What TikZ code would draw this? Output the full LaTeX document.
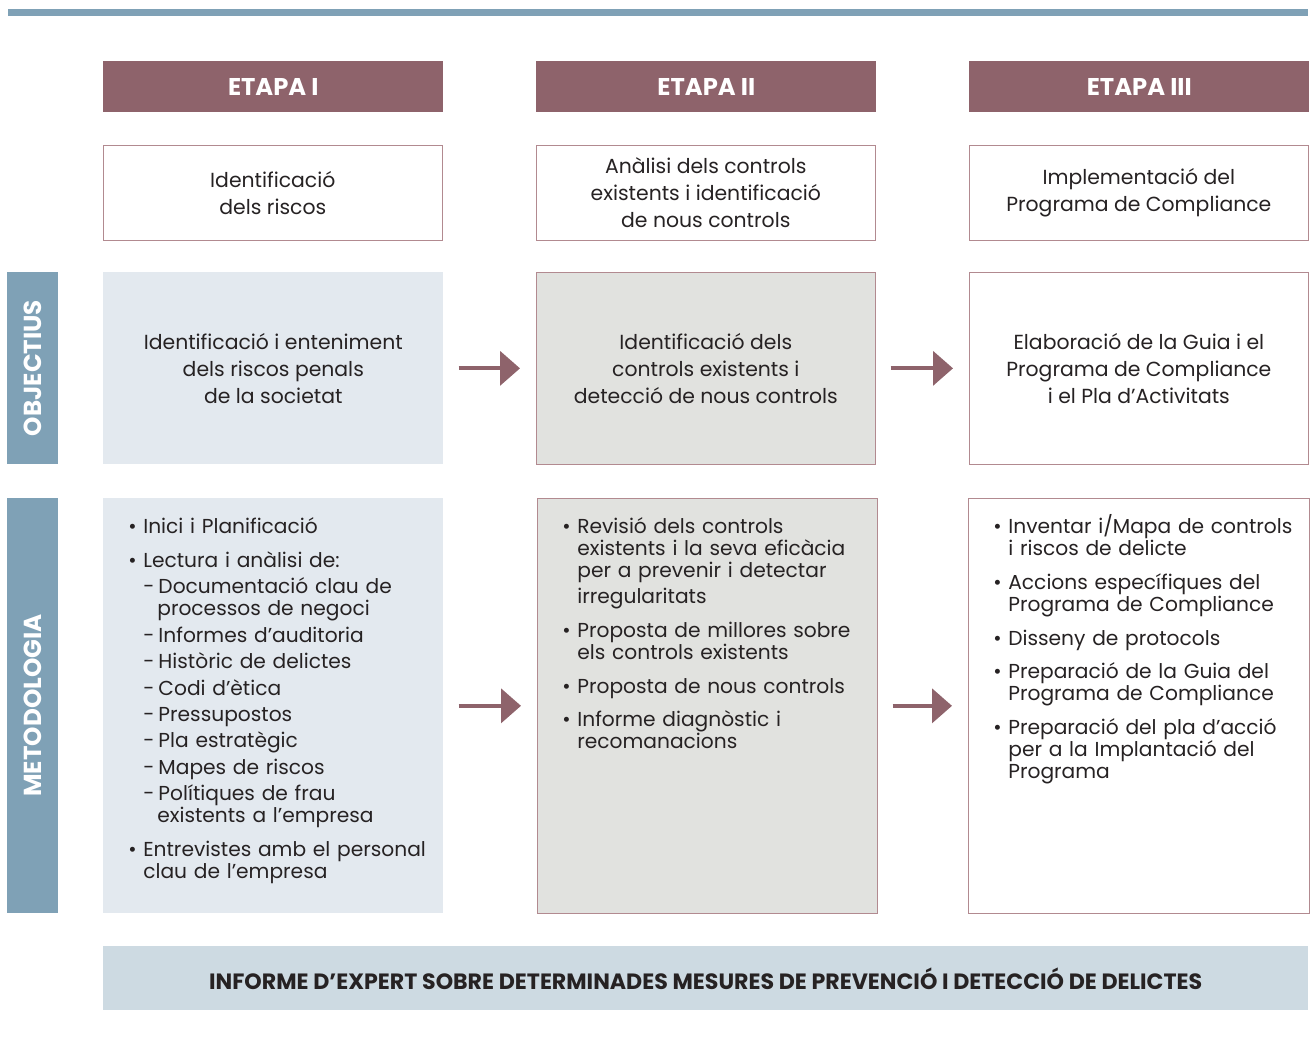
\documentclass[tikz,border=0pt]{standalone}
\usepackage{fontspec}
\setmainfont{Poppins}
\usepackage{enumitem}
\usetikzlibrary{arrows.meta}
\definecolor{etapa}{RGB}{142,99,107}
\definecolor{edge}{RGB}{178,138,144}
\definecolor{sideblue}{RGB}{127,161,182}
\definecolor{paleblue}{RGB}{227,233,239}
\definecolor{palegray}{RGB}{225,226,223}
\definecolor{band}{RGB}{205,218,226}
\definecolor{ink}{RGB}{38,34,35}
\newcommand\bodyfont{\fontsize{11.6}{15.3}\selectfont}
\newcommand\listfont{\fontsize{11.5}{12.4}\selectfont}
\tikzset{head/.style = {fill=etapa, anchor=north west, inner sep=0pt, minimum width=6.8cm, minimum height=1.02cm,
                        text=white, font=\bfseries\fontsize{13.8}{16}\selectfont},
         goal/.style = {draw=edge, fill=white, anchor=north west, inner sep=0pt, minimum width=6.78cm, minimum height=1.9cm,
                        align=center, text=ink, font=\bodyfont},
         aim/.style = {anchor=north west, inner sep=0pt, minimum width=6.8cm, minimum height=3.84cm,
                       align=center, text=ink, font=\bodyfont},
         task/.style = {anchor=north west, inner sep=0pt, minimum width=6.8cm, minimum height=8.3cm},
         side/.style = {fill=sideblue, rotate=90, inner sep=0pt, minimum height=1.02cm,
                        text=white, font=\bfseries\fontsize{14}{16}\selectfont},
         steps/.style = {anchor=north west, inner sep=0pt, text width=6.2cm, text=ink, font=\listfont},
         flow/.style = {draw=etapa, line width=0.08cm, -{Triangle[length=0.4cm,width=0.68cm]},
                        shorten <=0.3cm, shorten >=0.32cm}}
\setlist[itemize,1]{label=\textbullet, leftmargin=0.3cm, labelwidth=0.2cm, labelsep=0.1cm, align=left,
                    topsep=0pt, partopsep=0pt, parsep=0pt, itemsep=6.9pt}
\setlist[itemize,2]{label=-, leftmargin=0.28cm, labelwidth=0.2cm, labelsep=0.08cm, align=left,
                    topsep=2.6pt, partopsep=0pt, parsep=0pt, itemsep=2.65pt}

\begin{document}
\begin{tikzpicture}[x=0.02cm, y=-0.02cm]
        \useasboundingbox (0,0) rectangle (1314,1036);
        \fill[sideblue] (8,9) rectangle (1308,16);

        % etapes
        \node[head] (h1) at (103,61) {ETAPA I};
        \node[head] (h2) at (536,61) {ETAPA II};
        \node[head] (h3) at (969,61) {ETAPA III};

        \node[goal] (g1) at (103,145) {Identificació\\dels riscos};
        \node[goal] (g2) at (536,145) {Anàlisi dels controls\\existents i identificació\\de nous controls};
        \node[goal] (g3) at (969,145) {Implementació del\\Programa de Compliance};

        % objectius
        \node[side, minimum width=3.84cm] (sobj) at (32.5,368) {OBJECTIUS};
        \node[aim, fill=paleblue] (o1) at (103,272) {Identificació i enteniment\\dels riscos penals\\de la societat};
        \node[aim, fill=palegray, draw=edge, minimum width=6.78cm] (o2) at (536,272) {Identificació dels\\controls existents i\\detecció de nous controls};
        \node[aim, fill=white, draw=edge, minimum width=6.78cm] (o3) at (969,272) {Elaboració de la Guia i el\\Programa de Compliance\\i el Pla d’Activitats};

        \draw[flow] (o1.east) -- (o2.west);
        \draw[flow] (o2.east) -- (o3.west);

        % metodologia
        \node[side, minimum width=8.3cm] (smet) at (32.5,705.5) {METODOLOGIA};
        \node[task, fill=paleblue] (m1) at (103,498) {};
        \node[task, fill=palegray, draw=edge] (m2) at (537,498) {};
        \node[task, fill=white, draw=edge, minimum width=6.82cm] (m3) at (968,498) {};

        \node[steps] (l1) at ([xshift=0.5cm,yshift=-0.27cm]m1.north west) {%
          \begin{itemize}
            \item Inici i Planificació
            \item Lectura i anàlisi de:
            \begin{itemize}
              \item Documentació clau de\\processos de negoci
              \item Informes d’auditoria
              \item Històric de delictes
              \item Codi d’ètica
              \item Pressupostos
              \item Pla estratègic
              \item Mapes de riscos
              \item Polítiques de frau\\existents a l’empresa
            \end{itemize}
            \item Entrevistes amb el personal\\clau de l’empresa
          \end{itemize}};
        \node[steps] (l2) at ([xshift=0.5cm,yshift=-0.27cm]m2.north west) {%
          \begin{itemize}
            \item Revisió dels controls\\existents i la seva eficàcia\\per a prevenir i detectar\\[2.5pt]irregularitats
            \item Proposta de millores sobre\\els controls existents
            \item Proposta de nous controls
            \item Informe diagnòstic i\\recomanacions
          \end{itemize}};
        \node[steps] (l3) at ([xshift=0.5cm,yshift=-0.27cm]m3.north west) {%
          \begin{itemize}
            \item Inventar i/Mapa de controls\\i riscos de delicte
            \item Accions específiques del\\Programa de Compliance
            \item Disseny de protocols
            \item Preparació de la Guia del\\Programa de Compliance
            \item Preparació del pla d’acció\\per a la Implantació del\\Programa
          \end{itemize}};

        \draw[flow] (m1.east) -- (m2.west);
        \draw[flow] (m2.east) -- (m3.west);

        % informe
        \node[anchor=north west, fill=band, inner sep=0pt, minimum width=24.1cm, minimum height=1.28cm,
              text=ink, font=\bfseries\fontsize{12.6}{15}\selectfont] (info) at (103,946)
              {INFORME D’EXPERT SOBRE DETERMINADES MESURES DE PREVENCIÓ I DETECCIÓ DE DELICTES};
\end{tikzpicture}
\end{document}
